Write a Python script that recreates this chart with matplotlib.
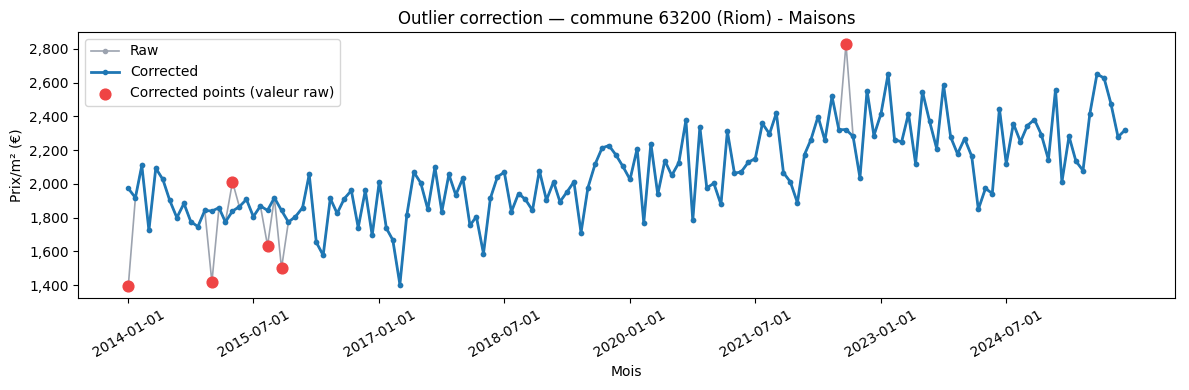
import matplotlib
matplotlib.use("Agg")
import matplotlib.pyplot as plt
import matplotlib.ticker as mticker
import numpy as np
import pandas as pd

# monthly series, 2014-01 .. 2025-12
months = pd.date_range("2014-01-01", periods=144, freq="MS")

corrected = [
    1973, 1918, 2109, 1725, 2093, 2026, 1902, 1800, 1884, 1776, 1747, 1843,
    1839, 1859, 1774, 1839, 1865, 1908, 1806, 1869, 1843, 1918, 1843, 1774,
    1806, 1859, 2056, 1654, 1577, 1914, 1825, 1912, 1961, 1741, 1961, 1695,
    2014, 1737, 1668, 1404, 1813, 2069, 2006, 1849, 2099, 1835, 2056, 1934,
    2034, 1754, 1806, 1587, 1914, 2042, 2069, 1835, 1943, 1908, 1843, 2079,
    1904, 2012, 1894, 1953, 2012, 1711, 1977, 2115, 2213, 2227, 2170, 2103,
    2026, 2209, 1770, 2239, 1938, 2138, 2050, 2125, 2377, 1784, 2336, 1977,
    2003, 1878, 2312, 2062, 2072, 2129, 2150, 2358, 2296, 2420, 2066, 2012,
    1888, 2174, 2262, 2399, 2257, 2518, 2320, 2322, 2281, 2036, 2553, 2286,
    2416, 2651, 2262, 2249, 2416, 2119, 2546, 2371, 2209, 2587, 2278, 2178,
    2268, 2164, 1849, 1973, 1943, 2446, 2119, 2357, 2249, 2345, 2381, 2292,
    2144, 2558, 2012, 2282, 2135, 2079, 2416, 2650, 2627, 2475, 2278, 2318,
]

# indices where raw value was replaced, and the raw values
outlier_idx = [0, 12, 15, 20, 22, 103]
outlier_raw = [1396, 1417, 2012, 1635, 1500, 2828]

raw = list(corrected)
for i, v in zip(outlier_idx, outlier_raw):
    raw[i] = v

fig, ax = plt.subplots(figsize=(11.89, 3.9), dpi=100)

ax.plot(months, raw, color="#9ca3af", lw=1.2, marker="o", markersize=3, label="Raw")
ax.plot(months, corrected, color="#1f77b4", lw=2, marker="o", markersize=3, label="Corrected")
ax.scatter(months[outlier_idx], outlier_raw, color="#ef4444", s=60, zorder=5,
           label="Corrected points (valeur raw)")

ax.set_title("Outlier correction — commune 63200 (Riom) - Maisons")
ax.set_xlabel("Mois")
ax.set_ylabel("Prix/m² (€)")

ticks = pd.date_range("2014-01-01", periods=8, freq="18MS")
ax.set_xticks(ticks)
ax.set_xticklabels([t.strftime("%Y-%m-%d") for t in ticks], rotation=30, ha="center")
ax.yaxis.set_major_formatter(mticker.StrMethodFormatter("{x:,.0f}"))

ax.legend(loc="upper left")
fig.subplots_adjust(left=0.066, right=0.988, top=0.918, bottom=0.236)
plt.savefig("out.png", dpi=100)
